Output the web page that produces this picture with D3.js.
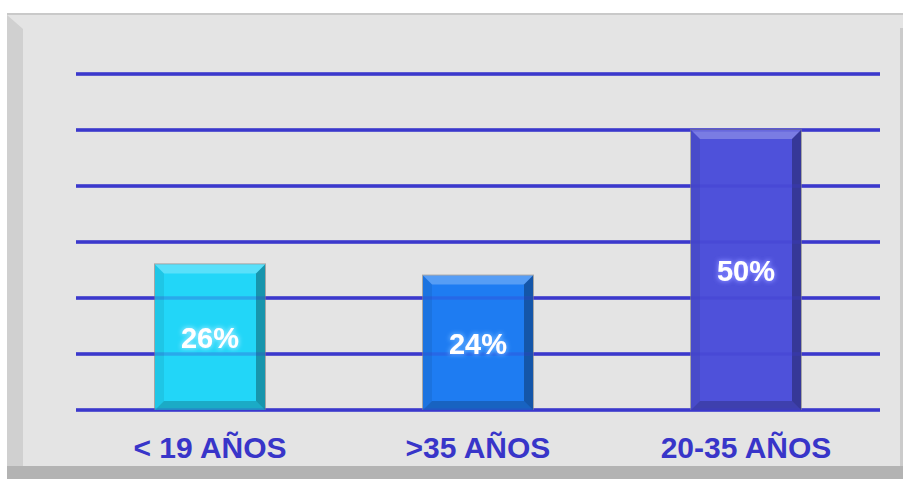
<!DOCTYPE html>
<html><head><meta charset="utf-8">
<script src="https://cdn.jsdelivr.net/npm/d3@7/dist/d3.min.js"></script>
<style>html,body{margin:0;padding:0;background:#fff;}svg{display:block;}</style>
</head><body>
<script>
const categories = ["< 19 AÑOS", ">35 AÑOS", "20-35 AÑOS"];
const values = [26, 24, 50];
const valueLabels = ["26%", "24%", "50%"];
const barColors = ["#22d6f8", "#1e7cf2", "#4e51da"];
const glowColors = ["#7fe6ff", "#5aa8ff", "#7f83ff"];
const yTicks = [0, 10, 20, 30, 40, 50, 60];

const W = 903, H = 479;
const svg = d3.select("body").append("svg").attr("width", W).attr("height", H);

// frame
svg.append("rect").attr("x",0).attr("y",0).attr("width",W).attr("height",H).attr("fill","#fff");
svg.append("rect").attr("x",7).attr("y",13).attr("width",896).attr("height",466).attr("fill","#e4e4e4");
svg.append("rect").attr("x",7).attr("y",13).attr("width",896).attr("height",2).attr("fill","#c9c9c9");
svg.append("polygon").attr("points","7,15 23,29 23,466 7,479").attr("fill","#d0d0d0");
svg.append("rect").attr("x",7).attr("y",466).attr("width",896).attr("height",13).attr("fill","#b3b3b3");
svg.append("rect").attr("x",900).attr("y",28).attr("width",3).attr("height",438).attr("fill","#cbcbcb");

const x = d3.scaleBand().domain(categories).range([76, 880]).paddingInner(0.5896).paddingOuter(0.2948);
const y = d3.scaleLinear().domain([0, 60]).range([410, 74]);

const gridG = (op) => svg.append("g").attr("opacity", op).selectAll("line").data(yTicks).join("line")
  .attr("x1", 76).attr("x2", 880)
  .attr("y1", d => y(d)).attr("y2", d => y(d))
  .attr("stroke", "#3b38cc").attr("stroke-width", 3.5);
gridG(1);

const defs = svg.append("defs");
barColors.forEach((c, i) => {
  const f = defs.append("filter").attr("id","glow"+i).attr("x","-30%").attr("y","-50%").attr("width","160%").attr("height","200%");
  f.append("feMorphology").attr("in","SourceAlpha").attr("operator","dilate").attr("radius",1).attr("result","d");
  f.append("feGaussianBlur").attr("in","d").attr("stdDeviation",2.2).attr("result","b");
  f.append("feFlood").attr("flood-color",glowColors[i]).attr("flood-opacity",1);
  f.append("feComposite").attr("in2","b").attr("operator","in").attr("result","g");
  const m = f.append("feMerge");
  m.append("feMergeNode").attr("in","g");
  m.append("feMergeNode").attr("in","SourceGraphic");
});

const bw = x.bandwidth(), bev = 9;
const bars = svg.append("g").selectAll("g").data(categories).join("g");
bars.each(function(c, i) {
  const g = d3.select(this);
  const x0 = x(c), x1 = x0 + bw, y0 = y(values[i]), y1 = y(0);
  g.append("rect").attr("x", x0 - 1).attr("y", y0 - 1).attr("width", bw + 2).attr("height", y1 - y0 + 1)
    .attr("fill", "#8a8a8a").attr("opacity", 0.7);
  g.append("rect").attr("x", x0).attr("y", y0).attr("width", bw).attr("height", y1 - y0)
    .attr("fill", barColors[i]);
  const poly = (pts, fill, op) => g.append("polygon").attr("points", pts.map(p => p.join(",")).join(" ")).attr("fill", fill).attr("fill-opacity", op);
  poly([[x0,y0],[x1,y0],[x1-bev,y0+bev],[x0+bev,y0+bev]], "#ffffff", 0.25);
  poly([[x1,y0],[x1,y1],[x1-bev,y1-bev],[x1-bev,y0+bev]], "#000000", 0.3);
  poly([[x0,y1],[x1,y1],[x1-bev,y1-bev],[x0+bev,y1-bev]], "#000000", 0.2);
  poly([[x0,y0],[x0+bev,y0+bev],[x0+bev,y1-bev],[x0,y1]], "#000000", 0.07);
});

gridG(0.28);

svg.append("g").selectAll("text").data(categories).join("text")
  .attr("x", d => x(d) + bw / 2).attr("y", (d, i) => (y(values[i]) + y(0)) / 2 + 11)
  .attr("text-anchor", "middle").attr("font-family", "Liberation Sans, Arial, sans-serif")
  .attr("font-weight", "bold").attr("font-size", 29).attr("fill", "#fff")
  .attr("filter", (d, i) => "url(#glow" + i + ")").text((d, i) => valueLabels[i]);

// category labels
svg.append("g").selectAll("text").data(categories).join("text")
  .attr("x", d => x(d) + bw / 2).attr("y", 458)
  .attr("text-anchor", "middle").attr("font-family", "Liberation Sans, Arial, sans-serif")
  .attr("font-weight", "bold").attr("font-size", 30).attr("fill", "#3835c9")
  .text(d => d);
</script>
</body></html>
